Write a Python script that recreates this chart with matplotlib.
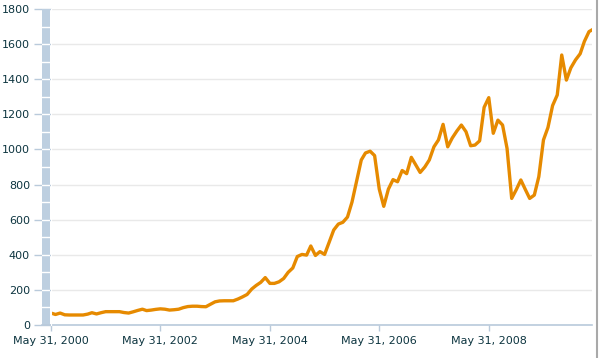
import pandas as pd
import matplotlib.pyplot as plt
from matplotlib.lines import Line2D

# === DATA ===
# monthly values
start_date = '2000-05-31'
values = [
    68, 60, 68, 58, 57, 57, 57, 57, 62, 70, 63, 70,
    76, 76, 76, 76, 71, 68, 75, 83, 90, 82, 85, 89,
    92, 90, 85, 87, 90, 99, 105, 107, 107, 105, 104, 118,
    132, 137, 138, 138, 138, 148, 160, 174, 205, 225, 243, 270,
    237, 237, 246, 265, 300, 325, 390, 402, 398, 450, 396, 418,
    402, 470, 541, 575, 585, 615, 700, 820, 940, 980, 990, 965,
    774, 676, 774, 828, 816, 880, 862, 955, 910, 869, 900, 940,
    1015, 1054, 1143, 1015, 1065, 1105, 1139, 1101, 1021, 1025, 1049, 1240,
    1295, 1092, 1167, 1139, 1006, 721, 770, 826, 770, 721, 740, 845,
    1054, 1125, 1250, 1310, 1538, 1395, 1465, 1510, 1545, 1615, 1671, 1686,
]
dates = pd.date_range(start_date, periods=len(values), freq='ME')

tick_dates = pd.to_datetime(['2000-05-31', '2002-05-31', '2004-05-31',
                             '2006-05-31', '2008-05-31'])
tick_labels = ['May 31, 2000', 'May 31, 2002', 'May 31, 2004',
               'May 31, 2006', 'May 31, 2008']
y_ticks = [0, 200, 400, 600, 800, 1000, 1200, 1400, 1600, 1800]

# === STYLE ===
line_color = '#e68a00'
text_color = '#0d3540'
axis_blue = '#b9cadb'
bar_blue = '#bdcfe0'
grid_gray = '#e9e9e9'

W, H = 600, 358
fig = plt.figure(figsize=(W / 100, H / 100), dpi=100)

def frac(x0, y_top, x1, y_bot):
    return [x0 / W, 1 - y_bot / H, (x1 - x0) / W, (y_bot - y_top) / H]

ax = fig.add_axes(frac(51, 9, 592, 325))
ax.plot(dates, values, color=line_color, linewidth=2.4, solid_joinstyle='round')

ax.set_ylim(0, 1800)
ax.set_xlim(pd.Timestamp('2000-05-31'), pd.Timestamp('2010-04-20'))
ax.set_yticks(y_ticks)
ax.set_yticklabels([str(v) for v in y_ticks])
ax.set_xticks(tick_dates)
ax.set_xticklabels(tick_labels)

ax.grid(axis='y', color=grid_gray, linewidth=1)
ax.set_axisbelow(True)
for side in ['top', 'right', 'left']:
    ax.spines[side].set_visible(False)
ax.spines['bottom'].set_color(axis_blue)
ax.spines['bottom'].set_linewidth(1.2)

ax.tick_params(axis='y', length=12.2, width=1, color=axis_blue, pad=3,
               labelsize=8, labelcolor=text_color)
ax.tick_params(axis='x', length=4, width=1, color=axis_blue, pad=4,
               labelsize=8, labelcolor=text_color)

# blue band left of the plot, split every 100 units
band = fig.add_axes(frac(42, 9, 50, 325))
band.set_facecolor(bar_blue)
band.set_ylim(0, 1800)
band.set_xlim(0, 1)
for v in range(100, 1800, 100):
    band.axhline(v, color='white', linewidth=1)
band.set_xticks([])
band.set_yticks([])
for s in band.spines.values():
    s.set_visible(False)

# bottom axis line under the band too
fig.add_artist(Line2D([42 / W, 51 / W], [1 - 325 / H] * 2, color=axis_blue, linewidth=1.2))
# white gap between band and plot covers the tick stubs
fig.add_artist(Line2D([50.5 / W] * 2, [1 - 325 / H, 1 - 9 / H], color='white', linewidth=0.8))
# gray border on the right
fig.add_artist(Line2D([596.5 / W] * 2, [0, 1], color='#a9a9a9', linewidth=1.5))

fig.savefig('out.png', dpi=100)
